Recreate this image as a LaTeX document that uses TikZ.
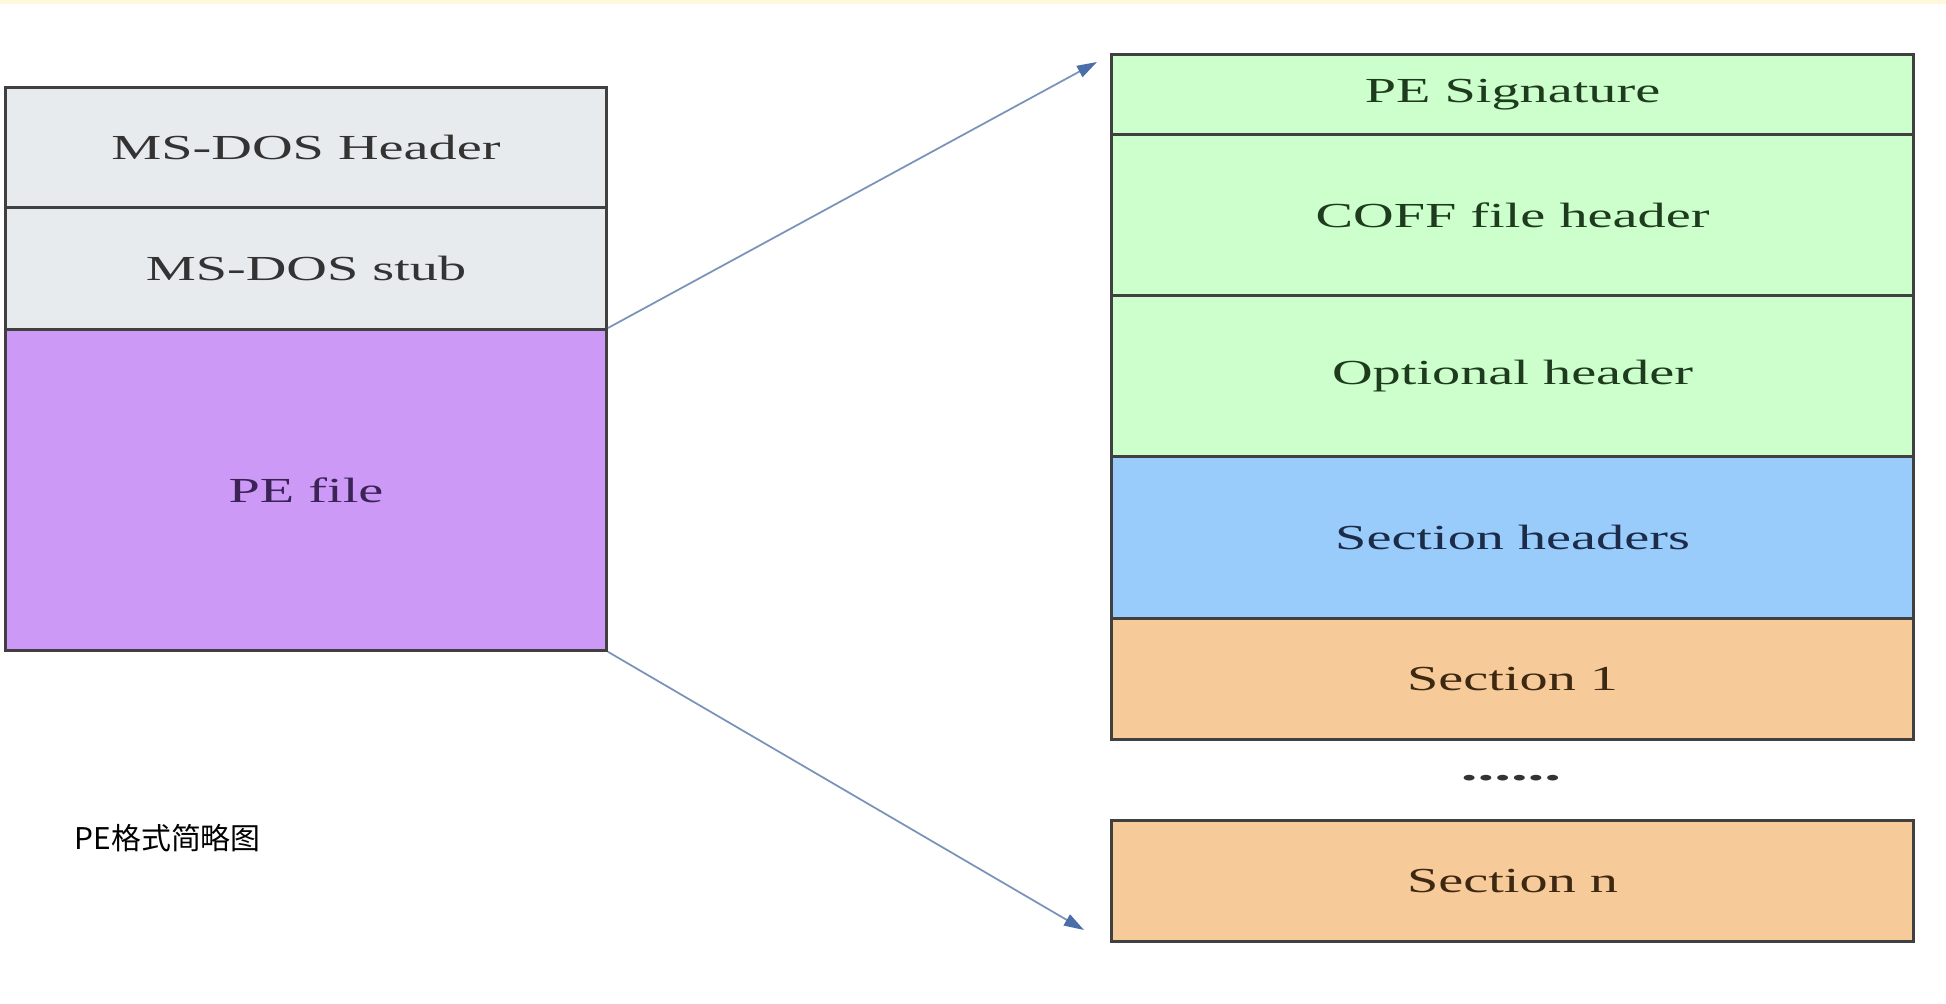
\documentclass[tikz,border=0pt]{standalone}
\usepackage{fontspec}
\setmainfont{Liberation Serif}
\newfontfamily\cjkfont{Noto Sans CJK SC}
\usetikzlibrary{arrows.meta}
\definecolor{topyellow}{HTML}{FFF8DC}
\definecolor{dosgray}{HTML}{E7EBED}
\definecolor{dostext}{HTML}{333333}
\definecolor{pefill}{HTML}{CC99F7}
\definecolor{petext}{HTML}{3B2356}
\definecolor{grfill}{HTML}{CCFFCC}
\definecolor{grtext}{HTML}{1E3B1E}
\definecolor{blfill}{HTML}{99CCFA}
\definecolor{bltext}{HTML}{1B2B48}
\definecolor{orfill}{HTML}{F7CB99}
\definecolor{ortext}{HTML}{3D2812}
\definecolor{arrline}{HTML}{7A93B8}
\definecolor{arrtip}{HTML}{4A6FA8}
\newcommand\stretchtxt[1]{\scalebox{1.6}[1]{#1}}
\begin{document}
\begin{tikzpicture}[x=0.01cm,y=-0.01cm,
  blk/.style={draw=black!75, line width=0.75pt, anchor=north west, inner sep=0pt,
    font=\fontsize{10}{12}\selectfont},
  leftblk/.style={blk, minimum width=6.01cm},
  rightblk/.style={blk, minimum width=8.02cm},
  arr/.style={draw=arrline, line width=0.5pt,
    -{Triangle[length=2mm,width=1.25mm,color=arrtip]}}]
\useasboundingbox (0,0) rectangle (1946,1004);
\fill[topyellow] (0,0) rectangle (1946,4);
% left column
\node[leftblk, fill=dosgray, text=dostext, minimum height=1.2cm] (dosh) at (4,86) {\stretchtxt{MS-DOS Header}};
\node[leftblk, fill=dosgray, text=dostext, minimum height=1.22cm] (doss) at (4,206) {\stretchtxt{MS-DOS stub}};
\node[leftblk, fill=pefill, text=petext, minimum height=3.21cm] (pe) at (4,328) {\stretchtxt{PE file}};
% right column
\node[rightblk, fill=grfill, text=grtext, minimum height=0.8cm] (sig) at (1110,53) {\stretchtxt{PE Signature}};
\node[rightblk, fill=grfill, text=grtext, minimum height=1.61cm] (coff) at (1110,133) {\stretchtxt{COFF file header}};
\node[rightblk, fill=grfill, text=grtext, minimum height=1.61cm] (opt) at (1110,294) {\stretchtxt{Optional header}};
\node[rightblk, fill=blfill, text=bltext, minimum height=1.62cm] (sech) at (1110,455) {\stretchtxt{Section headers}};
\node[rightblk, fill=orfill, text=ortext, minimum height=1.21cm] (sec1) at (1110,617) {\stretchtxt{Section 1}};
\node[font=\fontsize{10}{12}\selectfont\bfseries, text=black!80, inner sep=0pt] (dots) at (1511,778) {\scalebox{1.9}[1]{......}};
\node[rightblk, fill=orfill, text=ortext, minimum height=1.21cm] (secn) at (1110,819) {\stretchtxt{Section n}};
% caption
\node[font=\cjkfont\fontsize{8.5}{10}\selectfont, anchor=west, inner sep=0pt] (cap) at (74,838) {PE格式简略图};
% connectors
\coordinate (t1) at (1097,62);
\coordinate (t2) at (1084,930);
\draw[arr] (pe.north east) -- (t1);
\draw[arr] (pe.south east) -- (t2);
\end{tikzpicture}
\end{document}
